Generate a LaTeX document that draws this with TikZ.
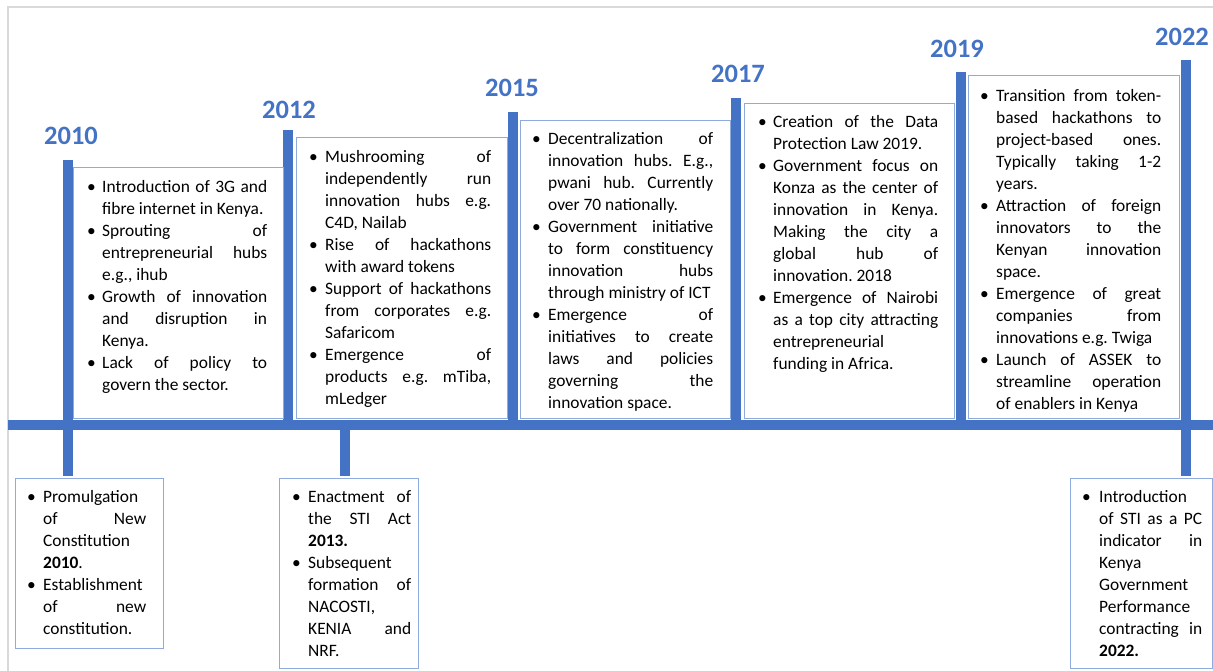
\documentclass[tikz,border=0pt]{standalone}
\usepackage{fontspec}
\setmainfont{Carlito}
\definecolor{tlblue}{HTML}{4472C4}
\definecolor{boxblue}{HTML}{8FAADC}
\definecolor{framegray}{HTML}{D9D9D9}
\newlength\hg
\newcommand\itm[1]{\par\noindent\hangindent=\hg\hangafter=1\hbox to \hg{\textbullet\hfil}#1}
\newcommand\tltext[3]{\parbox[t]{#1}{\setlength\hg{#2}\frenchspacing\tolerance=10000 \hbadness=10000 \hyphenpenalty=10000 \fontsize{17.4}{22}\selectfont #3}}
\tikzset{
  barline/.style={line width=10pt, draw=tlblue},
  evbox/.style={draw=boxblue, line width=1.3pt, fill=white, anchor=north west, inner sep=0pt},
  yearlabel/.style={text=tlblue, font=\fontsize{26.5}{30}\selectfont\bfseries, inner sep=0pt, anchor=base},
  evtext/.style={anchor=base west, inner sep=0pt},
}
\begin{document}
\begin{tikzpicture}[x=1pt,y=-1pt]
\useasboundingbox (0,0) rectangle (1213,671);
% frame
\draw[framegray, line width=2pt] (8,700) -- (8,7) -- (1230,7);
% main bar
\coordinate (barL) at (8,425);
\coordinate (barR) at (1220,425);
\draw[barline] (barL) -- (barR);
% stems
\coordinate (s10t) at (68,160);   \coordinate (s10b) at (68,476);
\coordinate (s12t) at (288,130);  \coordinate (s12b) at (288,425);
\coordinate (s12lt) at (345,425); \coordinate (s12lb) at (345,476);
\coordinate (s15t) at (512.5,112);\coordinate (s15b) at (512.5,425);
\coordinate (s17t) at (736,98);   \coordinate (s17b) at (736,425);
\coordinate (s19t) at (960.5,72); \coordinate (s19b) at (960.5,425);
\coordinate (s22t) at (1185.5,60);\coordinate (s22b) at (1185.5,476);
\foreach \a/\b in {s10t/s10b,s12t/s12b,s12lt/s12lb,s15t/s15b,s17t/s17b,s19t/s19b,s22t/s22b}
  \draw[barline] (\a) -- (\b);
% boxes
\node[evbox, minimum width=210pt, minimum height=251pt] (b10) at (73,167) {};
\node[evbox, minimum width=211pt, minimum height=281pt] (b12) at (296,137) {};
\node[evbox, minimum width=210pt, minimum height=298pt] (b15) at (520,120) {};
\node[evbox, minimum width=210pt, minimum height=315pt] (b17) at (744,103) {};
\node[evbox, minimum width=211pt, minimum height=343pt] (b19) at (968,75) {};
\node[evbox, minimum width=148pt, minimum height=170pt] (l10) at (15,478) {};
\node[evbox, minimum width=139pt, minimum height=190pt] (l13) at (279,478) {};
\node[evbox, minimum width=142pt, minimum height=190pt] (l22) at (1070,478) {};
% texts
\node[evtext] (t10) at (87,193) {\tltext{180pt}{15pt}{%
\itm{Introduction of 3G and\linebreak fibre internet in Kenya.}
\itm{Sprouting of\linebreak entrepreneurial hubs\linebreak e.g., ihub}
\itm{Growth of innovation\linebreak and disruption in\linebreak Kenya.}
\itm{Lack of policy to\linebreak govern the sector.}}};
\node[evtext] (t12) at (309,163) {\tltext{182pt}{16pt}{%
\itm{Mushrooming of\linebreak independently run\linebreak innovation hubs e.g.\linebreak C4D, Nailab}
\itm{Rise of hackathons\linebreak with award tokens}
\itm{Support of hackathons\linebreak from corporates e.g.\linebreak Safaricom}
\itm{Emergence of\linebreak products e.g. mTiba,\linebreak mLedger}}};
\node[evtext] (t15) at (532,145) {\tltext{181pt}{16pt}{%
\itm{Decentralization of\linebreak innovation hubs. E.g.,\linebreak pwani hub. Currently\linebreak over 70 nationally.}
\itm{Government initiative\linebreak to form constituency\linebreak innovation hubs\linebreak through ministry of ICT}
\itm{Emergence of\linebreak initiatives to create\linebreak laws and policies\linebreak governing the\linebreak innovation space.}}};
\node[evtext] (t17) at (758,128) {\tltext{180pt}{15pt}{%
\itm{Creation of the Data\linebreak Protection Law 2019.}
\itm{Government focus on\linebreak Konza as the center of\linebreak innovation in Kenya.\linebreak Making the city a\linebreak global hub of\linebreak innovation. 2018}
\itm{Emergence of Nairobi\linebreak as a top city attracting\linebreak entrepreneurial\linebreak funding in Africa.}}};
\node[evtext] (t19) at (980,102) {\tltext{181pt}{16pt}{%
\itm{Transition from token-\linebreak based hackathons to\linebreak project-based ones.\linebreak Typically taking 1-2\linebreak years.}
\itm{Attraction of foreign\linebreak innovators to the\linebreak Kenyan innovation\linebreak space.}
\itm{Emergence of great\linebreak companies from\linebreak innovations e.g. Twiga}
\itm{Launch of ASSEK to\linebreak streamline operation\linebreak of enablers in Kenya}}};
\node[evtext] (u10) at (27,502) {\tltext{119pt}{16pt}{%
\itm{Promulgation\linebreak of New\linebreak Constitution\linebreak \textbf{2010}.}
\itm{Establishment\linebreak of new\linebreak constitution.}}};
\node[evtext] (u13) at (292,502) {\tltext{119pt}{16pt}{%
\itm{Enactment of\linebreak the STI Act\linebreak \textbf{2013.}}
\itm{Subsequent\linebreak formation of\linebreak NACOSTI,\linebreak KENIA and\linebreak NRF.}}};
\node[evtext] (u22) at (1082,502) {\tltext{120pt}{17pt}{%
\itm{Introduction\linebreak of STI as a PC\linebreak indicator in\linebreak Kenya\linebreak Government\linebreak Performance\linebreak contracting in\linebreak \textbf{2022.}}}};
% years
\node[yearlabel] (y10) at (71,145) {2010};
\node[yearlabel] (y12) at (289,119) {2012};
\node[yearlabel] (y15) at (512,97) {2015};
\node[yearlabel] (y17) at (738,83) {2017};
\node[yearlabel] (y19) at (957,58) {2019};
\node[yearlabel] (y22) at (1182,46) {2022};
\end{tikzpicture}
\end{document}
